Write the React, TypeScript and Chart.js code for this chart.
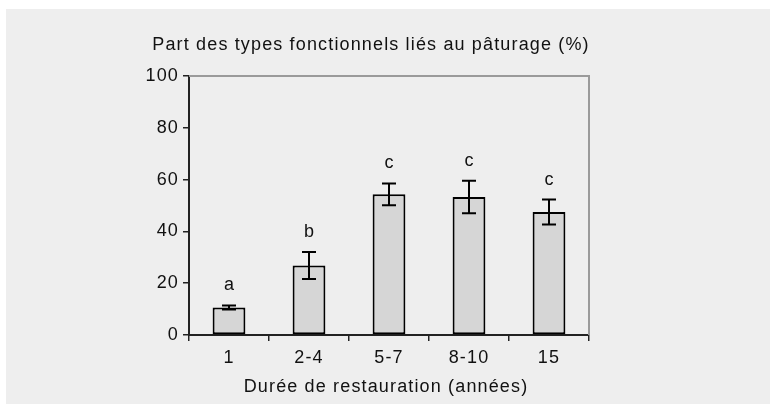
import React, { useEffect, useRef } from "react";
import { Chart, registerables } from "chart.js";

Chart.register(...registerables);

const categories = ["1", "2-4", "5-7", "8-10", "15"];
const values = [10.6, 26.8, 54.3, 53.3, 47.5];
const errors = [0.8, 5.2, 4.2, 6.3, 4.8];
const letters = ["a", "b", "c", "c", "c"];
const yTicks = [0, 20, 40, 60, 80, 100];
const chartTitle = "Part des types fonctionnels liés au pâturage (%)";
const xTitle = "Durée de restauration (années)";

const FONT = "'Liberation Sans', Arial, sans-serif";
const SPACING = "1.15px";

export default function App() {
  const ref = useRef<HTMLCanvasElement | null>(null);

  useEffect(() => {
    document.body.style.margin = "0";
    const canvas = ref.current;
    if (!canvas) return;

    const bgPlugin = {
      id: "bg",
      beforeDraw(chart: any) {
        const ctx = chart.ctx;
        ctx.save();
        ctx.fillStyle = "#ffffff";
        ctx.fillRect(0, 0, chart.width, chart.height);
        ctx.fillStyle = "#eeeeee";
        ctx.fillRect(6, 9, chart.width - 6, chart.height - 9);
        ctx.restore();
        (ctx as any).letterSpacing = SPACING;
      },
      afterDraw(chart: any) {
        const ctx = chart.ctx;
        const a = chart.chartArea;
        ctx.save();
        ctx.strokeStyle = "#9a9a9a";
        ctx.lineWidth = 2;
        ctx.beginPath();
        ctx.moveTo(a.left, a.top);
        ctx.lineTo(a.right, a.top);
        ctx.lineTo(a.right, a.bottom);
        ctx.stroke();
        (ctx as any).letterSpacing = SPACING;
        ctx.fillStyle = "#111111";
        ctx.font = `18px ${FONT}`;
        ctx.textAlign = "center";
        ctx.textBaseline = "alphabetic";
        ctx.fillText(chartTitle, 371, 50);
        ctx.textBaseline = "middle";
        ctx.fillText(xTitle, 386, 387);
        ctx.restore();
      },
    };

    const errPlugin = {
      id: "errbars",
      afterDatasetsDraw(chart: any) {
        const ctx = chart.ctx;
        const meta = chart.getDatasetMeta(0);
        const ys = chart.scales.y;
        ctx.save();
        ctx.strokeStyle = "#000000";
        ctx.lineWidth = 2;
        ctx.fillStyle = "#111111";
        (ctx as any).letterSpacing = "0px";
        ctx.font = `18px ${FONT}`;
        ctx.textAlign = "center";
        ctx.textBaseline = "middle";
        meta.data.forEach((bar: any, i: number) => {
          const x = bar.x;
          const yTop = ys.getPixelForValue(values[i] + errors[i]);
          const yBot = ys.getPixelForValue(values[i] - errors[i]);
          ctx.beginPath();
          ctx.moveTo(x, yTop);
          ctx.lineTo(x, yBot);
          ctx.moveTo(x - 7, yTop);
          ctx.lineTo(x + 7, yTop);
          ctx.moveTo(x - 7, yBot);
          ctx.lineTo(x + 7, yBot);
          ctx.stroke();
          ctx.fillText(letters[i], x, yTop - 20);
        });
        ctx.restore();
      },
    };

    const chart = new Chart(canvas, {
      type: "bar",
      data: {
        labels: categories,
        datasets: [
          {
            data: values,
            backgroundColor: "#d6d6d6",
            borderColor: "#000000",
            borderWidth: 2,
            borderSkipped: false,
            categoryPercentage: 1,
            barPercentage: 0.41,
          },
        ],
      },
      options: {
        responsive: false,
        animation: false,
        devicePixelRatio: 1,
        layout: { padding: { left: 100, right: 181, top: 76, bottom: 0 } },
        plugins: {
          legend: { display: false },
          title: { display: false },
          tooltip: { enabled: false },
        },
        scales: {
          x: {
            grid: {
              display: true,
              drawOnChartArea: false,
              drawTicks: true,
              tickLength: 6,
              color: "#222222",
              lineWidth: 1.5,
              offset: true,
            },
            border: { display: true, color: "#222222", width: 2 },
            ticks: {
              padding: 6,
              color: "#111111",
              font: { family: FONT, size: 18 },
            },
            title: { display: false },
            afterFit(scale: any) {
              scale.height = 69;
            },
          },
          y: {
            min: 0,
            max: 100,
            afterBuildTicks(scale: any) {
              scale.ticks = yTicks.map((v) => ({ value: v }));
            },
            grid: {
              display: true,
              drawOnChartArea: false,
              drawTicks: true,
              tickLength: 6,
              color: "#222222",
              lineWidth: 1.5,
            },
            border: { display: true, color: "#222222", width: 2 },
            ticks: {
              padding: 4,
              color: "#111111",
              font: { family: FONT, size: 18 },
            },
            afterFit(scale: any) {
              scale.width = 89;
            },
          },
        },
      },
      plugins: [bgPlugin, errPlugin],
    });

    return () => chart.destroy();
  }, []);

  return <canvas ref={ref} width={770} height={404} style={{ display: "block", width: 770, height: 404 }} />;
}
